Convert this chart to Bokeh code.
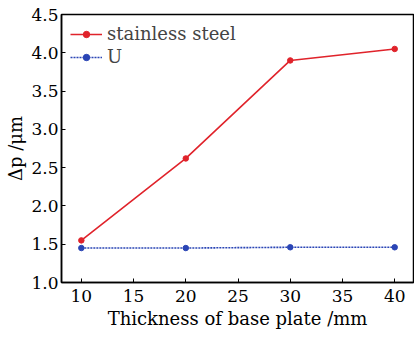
from bokeh.plotting import figure
from bokeh.embed import file_html
from bokeh.resources import INLINE
from bokeh.models import Range1d, FixedTicker, Legend, LegendItem, NumeralTickFormatter

thickness = [10, 20, 30, 40]
stainless = [1.55, 2.62, 3.90, 4.05]
u_vals = [1.45, 1.45, 1.46, 1.46]
x_ticks = [10, 15, 20, 25, 30, 35, 40]
y_ticks = [1.0, 1.5, 2.0, 2.5, 3.0, 3.5, 4.0, 4.5]

FONT = "DejaVu Serif"

p = figure(width=414, height=338, output_backend="svg", toolbar_location=None,
           x_range=Range1d(8.1, 41.8), y_range=Range1d(1.0, 4.5),
           min_border_left=61, min_border_right=1, min_border_top=14, min_border_bottom=56)
p.grid.visible = False
p.outline_line_color = "black"
p.outline_line_width = 1.5

for ax in (p.xaxis[0], p.yaxis[0]):
    ax.axis_line_width = 1.5
    ax.axis_line_color = "black"
    ax.major_tick_in = 4
    ax.major_tick_out = 0
    ax.minor_tick_in = 0
    ax.minor_tick_out = 0
    ax.major_label_text_font = FONT
    ax.major_label_text_font_size = "17px"
    ax.major_label_text_color = "black"
    ax.axis_label_text_font = FONT
    ax.axis_label_text_font_size = "18px"
    ax.axis_label_text_font_style = "normal"
    ax.axis_label_text_color = "black"

p.xaxis.ticker = FixedTicker(ticks=x_ticks)
p.yaxis.ticker = FixedTicker(ticks=y_ticks)
p.yaxis.formatter = NumeralTickFormatter(format="0.0")
p.xaxis.axis_label = "Thickness of base plate /mm"
p.yaxis.axis_label = "Δp /μm"
p.xaxis.major_label_standoff = 7
p.yaxis.major_label_standoff = 3
p.xaxis.axis_label_standoff = 3
p.yaxis.axis_label_standoff = 2

red = "#e0232b"
blue = "#2a45b5"
r1 = p.line(thickness, stainless, color=red, line_width=1.6)
r1m = p.scatter(thickness, stainless, color=red, size=5.5)
r2 = p.line(thickness, u_vals, color=blue, line_width=1.6, line_dash="2 1")
r2m = p.scatter(thickness, u_vals, color=blue, size=5.5)

legend = Legend(items=[LegendItem(label="stainless steel", renderers=[r1, r1m]),
                       LegendItem(label="U", renderers=[r2, r2m])],
                location="top_left", border_line_color=None, background_fill_alpha=0,
                label_text_font=FONT, label_text_font_size="18px",
                glyph_width=32, glyph_height=16, spacing=2, padding=4,
                margin=9, label_standoff=5)
p.add_layout(legend)

open("out.html", "w").write(file_html(p, INLINE))
